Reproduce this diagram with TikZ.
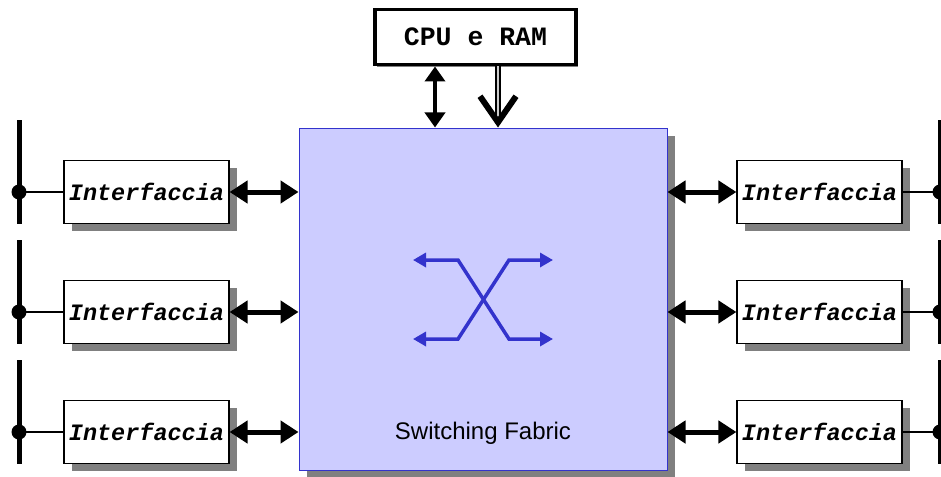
\documentclass[tikz,border=0pt]{standalone}
\usepackage{fontspec}
\setmainfont{Liberation Sans}
\newfontfamily\monofont{Liberation Mono}
\usetikzlibrary{arrows.meta,positioning,calc,shadows}
\definecolor{fabfill}{HTML}{CCCCFF}
\definecolor{fabline}{HTML}{3333CC}
\definecolor{shgray}{HTML}{808080}

\begin{document}
\begin{tikzpicture}[x=1pt,y=-1pt,
  ifbox/.style={draw=black,line width=1.2pt,fill=white,minimum width=165pt,
    minimum height=63pt,inner sep=0pt,
    font=\monofont\bfseries\itshape\fontsize{23.5}{24}\selectfont,
    drop shadow={shadow xshift=8pt,shadow yshift=-7pt,fill=shgray,opacity=1}},
  cpubox/.style={draw=black,line width=3.5pt,fill=white,minimum width=201pt,
    minimum height=55pt,inner sep=0pt,
    font=\monofont\bfseries\fontsize{26.5}{27}\selectfont,
    drop shadow={shadow xshift=2pt,shadow yshift=-2pt,fill=shgray,opacity=1}},
  fabbox/.style={draw=fabline,line width=1pt,fill=fabfill,minimum width=368pt,
    minimum height=342pt,inner sep=0pt,
    drop shadow={shadow xshift=8pt,shadow yshift=-8pt,fill=shgray,opacity=1}},
  bus/.style={line width=5pt},
  tap/.style={line width=2pt},
  biarrow/.style={line width=5pt,{Triangle[length=18pt,width=22pt]}-{Triangle[length=18pt,width=22pt]}},
  cpuarrow/.style={line width=4pt,{Triangle[length=15pt,width=20pt]}-{Triangle[length=15pt,width=20pt]}},
  datarrow/.style={double=shgray!40,double distance=2.5pt,line width=2pt,
    -{Straight Barb[length=26pt,width=36pt,line width=6pt]}},
  swline/.style={draw=fabline,line width=3.5pt,{Triangle[length=13pt,width=14pt]}-{Triangle[length=13pt,width=14pt]}}]
\useasboundingbox (0,0) rectangle (941,476);

% fabric and cpu
\node[fabbox] (fab) at (483,299) {};
\node[font=\fontsize{24}{26}\selectfont] (fabtxt) at ([yshift=37pt]fab.south) {Switching Fabric};
\node[cpubox,above=61pt of fab.north,xshift=-7.5pt] (cpu) {CPU e RAM};

% switch symbol
\draw[swline] ($(fab.center)+(-70,-39)$) -- ++(45,0) -- ++(51,79) -- ++(44,0);
\draw[swline] ($(fab.center)+(-70,40)$) -- ++(45,0) -- ++(51,-79) -- ++(44,0);

\draw[cpuarrow] ([xshift=-40.5pt]cpu.south) -- ([xshift=-40.5pt]cpu.south |- fab.north);
\draw[datarrow] ([xshift=22.5pt]cpu.south) -- ([xshift=22.5pt]cpu.south |- fab.north);

% interfaces
\foreach \i/\y in {1/192,2/312,3/432} {
  \node[ifbox] (il\i) at (146.5,\y) {Interfaccia};
  \node[ifbox] (ir\i) at (819.5,\y) {Interfaccia};
  \coordinate (tl\i) at (19,\y);
  \coordinate (tr\i) at (940,\y);
  \draw[bus] ($(tl\i)+(0,-72)$) -- ($(tl\i)+(0,32)$);
  \draw[bus] ($(tr\i)+(0,-72)$) -- ($(tr\i)+(0,32)$);
  \draw[tap] (tl\i) -- (il\i.west);
  \draw[tap] (ir\i.east) -- (tr\i);
  \fill (tl\i) circle (7.5pt);
  \fill (tr\i) circle (7.5pt);
  \draw[biarrow] (il\i.east) -- (il\i.east -| fab.west);
  \draw[biarrow] (ir\i.west) -- (ir\i.west -| fab.east);
}
\end{tikzpicture}
\end{document}
